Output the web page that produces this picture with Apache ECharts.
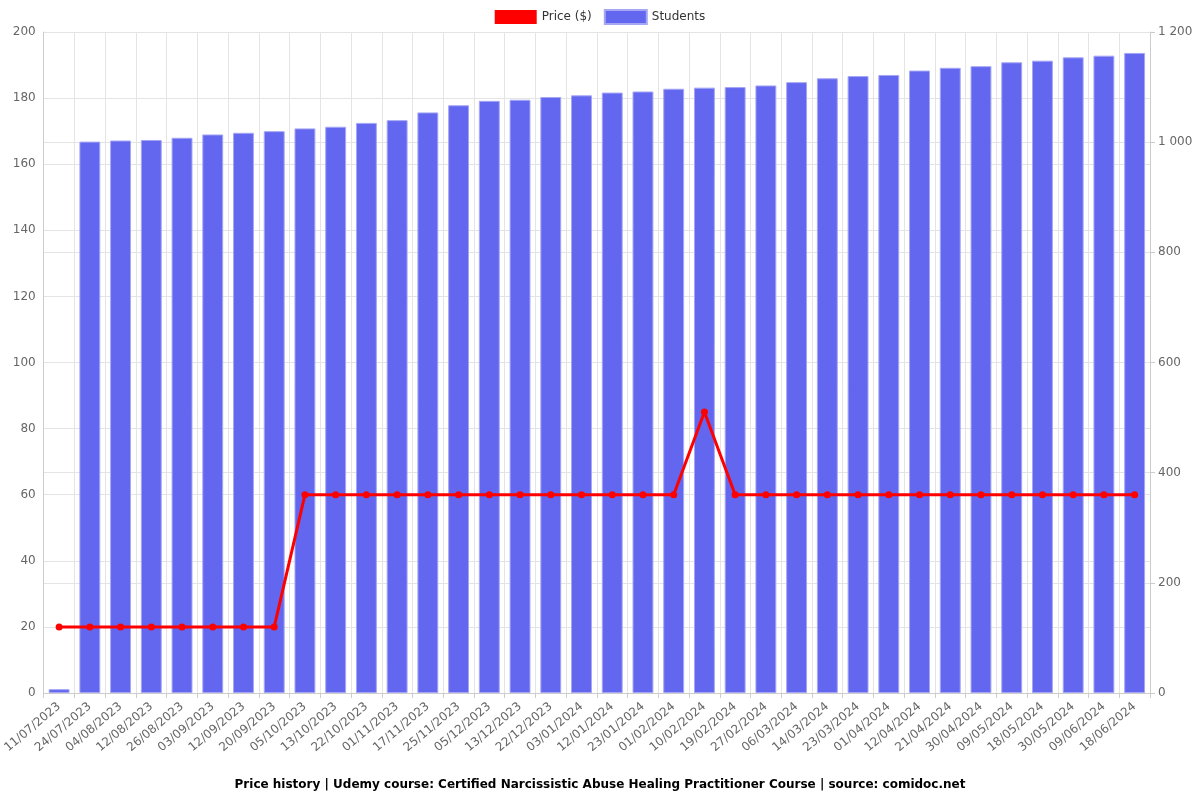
<!DOCTYPE html>
<html>
<head>
<meta charset="utf-8">
<script src="https://cdn.jsdelivr.net/npm/echarts@6/dist/echarts.min.js"></script>
<style>html,body{margin:0;padding:0;background:#fff}#c{width:1200px;height:800px}</style>
</head>
<body>
<div id="c"></div>
<script>
const categories = ["11/07/2023","24/07/2023","04/08/2023","12/08/2023","26/08/2023","03/09/2023","12/09/2023","20/09/2023","05/10/2023","13/10/2023","22/10/2023","01/11/2023","17/11/2023","25/11/2023","05/12/2023","13/12/2023","22/12/2023","03/01/2024","12/01/2024","23/01/2024","01/02/2024","10/02/2024","19/02/2024","27/02/2024","06/03/2024","14/03/2024","23/03/2024","01/04/2024","12/04/2024","21/04/2024","30/04/2024","09/05/2024","18/05/2024","30/05/2024","09/06/2024","18/06/2024"];
const price = [20,20,20,20,20,20,20,20,60,60,60,60,60,60,60,60,60,60,60,60,60,85,60,60,60,60,60,60,60,60,60,60,60,60,60,60];
const students = [7,1001,1003,1004,1008,1014,1017,1020,1025,1028,1035,1040,1054,1067,1075,1077,1082,1085,1090,1092,1097,1099,1100,1103,1109,1116,1120,1122,1130,1135,1138,1145,1148,1154,1157,1162];
const titleText = "Price history | Udemy course: Certified Narcissistic Abuse Healing Practitioner Course | source: comidoc.net";

const chart = echarts.init(document.getElementById('c'));
const fmt = v => String(v).replace(/\B(?=(\d{3})+(?!\d))/g, ' ');
chart.setOption({
  animation: false,
  textStyle: {fontFamily: 'DejaVu Sans'},
  title: {text: titleText, left: 'center', top: 774, textStyle: {fontSize: 12, fontWeight: 'bold', color: '#000', fontFamily: 'DejaVu Sans'}},
  legend: {top: 4, left: 'center', icon: 'rect', itemWidth: 42, itemHeight: 14, itemGap: 12, textStyle: {fontSize: 12, color: '#333'},
    data: [{name: 'Price ($)', itemStyle: {color: '#ff0000'}}, {name: 'Students', itemStyle: {color: '#6366ef'}}]},
  grid: {left: 42, right: 50, top: 32, bottom: 107, containLabel: false},
  xAxis: {type: 'category', data: categories, boundaryGap: true,
    axisLine: {lineStyle: {color: '#ccc'}}, axisTick: {show: true, alignWithLabel: false, lineStyle: {color: '#ccc'}},
    splitLine: {show: true, lineStyle: {color: '#e4e4e4'}},
    axisLabel: {rotate: 40, interval: 0, color: '#666', fontSize: 12, margin: 12}},
  yAxis: [
    {type: 'value', min: 0, max: 200, interval: 20, position: 'left',
      axisLine: {show: true, lineStyle: {color: '#ccc'}}, axisTick: {show: false},
      axisLabel: {color: '#666', fontSize: 12}, splitLine: {lineStyle: {color: '#e4e4e4'}}},
    {type: 'value', min: 0, max: 1200, interval: 200, position: 'right',
      axisLine: {show: true, lineStyle: {color: '#ccc'}}, axisTick: {show: true, lineStyle: {color: '#ccc'}},
      axisLabel: {color: '#666', fontSize: 12, formatter: fmt}, splitLine: {lineStyle: {color: '#e4e4e4'}}}
  ],
  series: [
    {name: 'Students', type: 'bar', yAxisIndex: 1, data: students, barWidth: '68%',
      itemStyle: {color: '#6366ef', borderColor: '#a5a7f5', borderWidth: 1}, z: 1},
    {name: 'Price ($)', type: 'line', yAxisIndex: 0, data: price, symbol: 'circle', symbolSize: 7,
      lineStyle: {color: '#ff0000', width: 3}, itemStyle: {color: '#ff0000'}, z: 3}
  ]
});
</script>
</body>
</html>
